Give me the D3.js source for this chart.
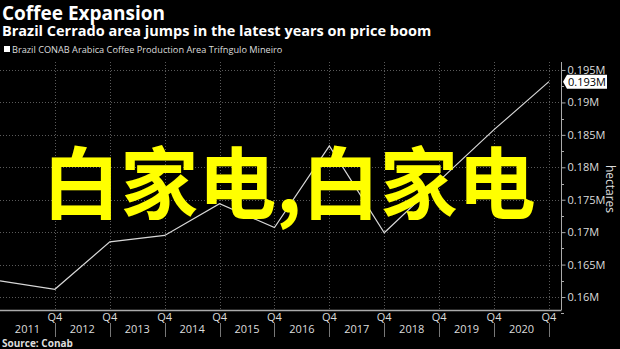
<!DOCTYPE html>
<html><head><meta charset="utf-8">
<script src="https://cdn.jsdelivr.net/npm/d3@7"></script>
<style>html,body{margin:0;padding:0;background:#000;}svg{display:block;}</style>
</head><body>
<svg id="c" width="620" height="349"></svg>
<script>
const years = [2010, 2011, 2012, 2013, 2014, 2015, 2016, 2017, 2018, 2019, 2020];
const areaValues = [0.1625, 0.1612, 0.1685, 0.1695, 0.1744, 0.1707, 0.1833, 0.1699, 0.1779, 0.1858, 0.1932];
const yTicks = [0.16, 0.165, 0.17, 0.175, 0.18, 0.185, 0.19, 0.195];
const yearLabels = ["2011","2012","2013","2014","2015","2016","2017","2018","2019","2020"];
const lastLabel = "0.193M";
const title = "Coffee Expansion";
const subtitle = "Brazil Cerrado area jumps in the latest years on price boom";
const legendText = "Brazil CONAB Arabica Coffee Production Area Trifngulo Mineiro";
const sourceText = "Source: Conab";
const unitLabel = "hectares";
const watermark = "白家电,白家电";

const svg = d3.select("#c");
const W = 620, H = 349;
const m = {left: 0, right: 561, top: 62, bottom: 310};
const font = "'Open Sans', 'Liberation Sans', sans-serif";

svg.append("rect").attr("width", W).attr("height", H).attr("fill", "#000");

const x = d3.scaleLinear().domain([2010, 2020.22]).range([m.left, m.right]);
const y = d3.scaleLinear().domain([0.158, 0.19623]).range([m.bottom, m.top]);

// grid
const g = svg.append("g");
g.selectAll("line.h").data(yTicks).join("line")
  .attr("x1", m.left).attr("x2", m.right)
  .attr("y1", d => Math.round(y(d)) + 0.5).attr("y2", d => Math.round(y(d)) + 0.5)
  .attr("stroke", "#5a5a5a").attr("stroke-width", 1).attr("stroke-dasharray", "1,2");
g.selectAll("line.v").data(years.slice(1)).join("line")
  .attr("x1", d => Math.round(x(d)) + 0.5).attr("x2", d => Math.round(x(d)) + 0.5)
  .attr("y1", m.top).attr("y2", m.bottom)
  .attr("stroke", "#5a5a5a").attr("stroke-width", 1).attr("stroke-dasharray", "1,2");

// right axis
const yAxis = d3.axisRight(y).tickValues(yTicks).tickFormat(d => d3.format(".3~f")(d) + "M").tickSize(4).tickPadding(2);
const ya = svg.append("g").attr("transform", `translate(${m.right + 0.5},0)`).call(yAxis);
ya.select(".domain").attr("stroke", "#aaa").attr("d", `M0,${m.top}V${m.bottom}`);
ya.selectAll(".tick line").attr("stroke", "#aaa");
ya.selectAll(".tick text").attr("fill", "#ddd").attr("font-family", font).attr("font-size", 11);
const minor = d3.range(0.1575, 0.196, 0.005);
svg.append("g").selectAll("line").data(minor).join("line")
  .attr("x1", m.right).attr("x2", m.right + 3)
  .attr("y1", d => Math.round(y(d)) + 0.5).attr("y2", d => Math.round(y(d)) + 0.5)
  .attr("stroke", "#aaa");

svg.append("text").text(unitLabel)
  .attr("transform", `translate(606,${(m.top + m.bottom) / 2 + 3}) rotate(90)`)
  .attr("text-anchor", "middle").attr("fill", "#ddd").attr("font-family", font).attr("font-size", 12);

// bottom axis
svg.append("line").attr("x1", 0).attr("x2", m.right + 0.5).attr("y1", m.bottom + 0.5).attr("y2", m.bottom + 0.5)
  .attr("stroke", "#aaa").attr("stroke-width", 1.5);
const xa = svg.append("g");
xa.selectAll("line").data(years.slice(1)).join("line")
  .attr("x1", d => Math.round(x(d)) + 0.5).attr("x2", d => Math.round(x(d)) + 0.5)
  .attr("y1", m.bottom + 13).attr("y2", 337).attr("stroke", "#777");
xa.selectAll("text.q").data(years.slice(1)).join("text").attr("class", "q")
  .attr("x", d => x(d)).attr("y", 321).attr("text-anchor", "middle")
  .attr("fill", "#ddd").attr("font-family", font).attr("font-size", 11).text("Q4");
xa.selectAll("text.yr").data(yearLabels).join("text").attr("class", "yr")
  .attr("x", (d, i) => x(years[i + 1] - 0.5)).attr("y", 333).attr("text-anchor", "middle")
  .attr("fill", "#ddd").attr("font-family", font).attr("font-size", 11).text(d => d);

// line
const line = d3.line().x((d, i) => x(years[i])).y(d => y(d));
svg.append("path").datum(areaValues).attr("d", line)
  .attr("fill", "none").attr("stroke", "#d8d8d8").attr("stroke-width", 1.2);

// last value flag
const lv = y(areaValues[areaValues.length - 1]);
const fx = m.right + 2;
svg.append("path")
  .attr("d", `M${fx},${lv} L${fx + 4},${lv - 7} H${fx + 44} V${lv + 7} H${fx + 4} Z`)
  .attr("fill", "#fff");
svg.append("text").text(lastLabel).attr("x", fx + 5).attr("y", lv + 4)
  .attr("fill", "#000").attr("font-family", font).attr("font-size", 11);

// titles
svg.append("text").text(title).attr("x", 2).attr("y", 20)
  .attr("fill", "#fff").attr("font-family", font).attr("font-weight", "bold").attr("font-size", 19);
svg.append("text").text(subtitle).attr("x", 2).attr("y", 36)
  .attr("fill", "#fff").attr("font-family", font).attr("font-weight", "bold").attr("font-size", 14.5);
svg.append("rect").attr("x", 4).attr("y", 46).attr("width", 6).attr("height", 6).attr("fill", "#fff");
svg.append("text").text(legendText).attr("x", 12).attr("y", 53)
  .attr("fill", "#ddd").attr("font-family", font).attr("font-size", 9.2);
svg.append("text").text(sourceText).attr("x", 2).attr("y", 346.5)
  .attr("fill", "#ddd").attr("font-family", font).attr("font-weight", "bold").attr("font-size", 10);

// watermark
svg.append("text").text(watermark).attr("x", 289).attr("y", 213)
  .attr("text-anchor", "middle").attr("fill", "#ffff00")
  .attr("font-family", "'Noto Sans CJK SC', sans-serif").attr("font-weight", "bold").attr("font-size", 78);
</script>
</body></html>
